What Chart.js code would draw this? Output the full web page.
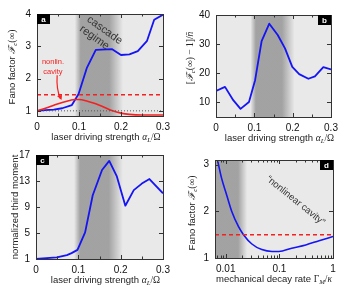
<!DOCTYPE html>
<html>
<head>
<meta charset="utf-8">
<script src="https://cdn.jsdelivr.net/npm/chart.js@4.4.1/dist/chart.umd.min.js"></script>
<style>
  html, body { margin: 0; padding: 0; background: #fff; }
  #wrap { position: relative; width: 347px; height: 295px; }
  #wrap canvas { position: absolute; left: 0; top: 0; }
</style>
</head>
<body>
<div id="wrap">
  <canvas id="chartA" width="347" height="295"></canvas>
  <canvas id="chartB" width="347" height="295"></canvas>
  <canvas id="chartC" width="347" height="295"></canvas>
  <canvas id="chartD" width="347" height="295"></canvas>
</div>
<script>
// panel a: Fano factor vs driving strength
const fanoX = [0, 0.02, 0.04, 0.06, 0.083, 0.099, 0.119, 0.14, 0.179, 0.2, 0.22, 0.24, 0.262, 0.279, 0.3];
const fanoY = [1.0, 1.02, 1.04, 1.08, 1.18, 1.52, 2.34, 2.89, 2.91, 2.73, 2.75, 2.85, 3.17, 3.82, 3.98];
const cavityX = [0, 0.02, 0.04, 0.06, 0.08, 0.09, 0.1, 0.12, 0.14, 0.16, 0.18, 0.2, 0.22, 0.25, 0.3];
const cavityY = [1.0, 1.08, 1.17, 1.26, 1.33, 1.35, 1.35, 1.3, 1.22, 1.11, 1.0, 0.93, 0.89, 0.87, 0.87];
const cavityLimit = 1.5;
const poissonLevel = 1;

// panel b: [F(inf) - 1] / n
const excessX = [0, 0.0235, 0.045, 0.064, 0.086, 0.102, 0.119, 0.139, 0.161, 0.18, 0.199, 0.217, 0.241, 0.258, 0.28, 0.3];
const excessY = [13.8, 15.2, 10.6, 7.6, 10.0, 17.5, 31.0, 37.0, 33.1, 28.5, 22.1, 19.6, 18.0, 18.8, 22.0, 21.2];

// panel c: normalized third moment
const thirdX = [0, 0.049, 0.073, 0.084, 0.098, 0.116, 0.134, 0.156, 0.173, 0.191, 0.211, 0.231, 0.25, 0.268, 0.3];
const thirdY = [1.0, 1.26, 1.6, 1.9, 2.4, 5.1, 10.8, 14.7, 16.1, 13.7, 9.2, 11.6, 12.6, 13.3, 11.1];

// panel d: Fano factor vs mechanical decay rate
const decayX = [0.0071, 0.0084, 0.0104, 0.013, 0.0173, 0.0214, 0.0307, 0.047, 0.073, 0.098, 0.17, 0.31, 0.55, 1.0];
const decayY = [3.07, 2.70, 2.35, 1.99, 1.67, 1.50, 1.30, 1.18, 1.14, 1.14, 1.21, 1.28, 1.37, 1.46];

// tick labels
const xTicks = [0, 0.1, 0.2, 0.3];
const xMinor = [0.05, 0.15, 0.25];
const yTicksA = [1, 2, 3, 4];
const yTicksB = [10, 20, 30, 40];
const yTicksC = [1, 5, 9, 13, 17];
const yTicksD = [1, 2, 3];
const xTicksD = [0.01, 0.1, 1];

// shaded "cascade" band edges: fade-in start, full, full end, fade-out end
const bandLin = [0.09, 0.104, 0.172, 0.205];
const bandLog = [0, 0, 0.017, 0.025];

const SANS = '"Liberation Sans", Arial, sans-serif';
const SERIF = '"Liberation Serif", "DejaVu Serif", serif';
const BLUE = '#1414f5';
const RED = '#f52020';

function pts(xs, ys) {
  return xs.map((x, i) => ({ x: x, y: ys[i] }));
}
function level(xs, y) {
  return [{ x: xs[0], y: y }, { x: xs[xs.length - 1], y: y }];
}

function richText(ctx, parts, x, y, size, angle) {
  ctx.save();
  ctx.translate(x, y);
  ctx.rotate(angle || 0);
  const fontOf = p => (p.it ? 'italic ' : '') + (p.sub ? size * 0.72 : size) + 'px ' + (p.math ? SERIF : SANS);
  let w = 0;
  parts.forEach(p => { ctx.font = fontOf(p); w += ctx.measureText(p.t).width; });
  let cx = -w / 2;
  ctx.textAlign = 'left';
  ctx.textBaseline = 'middle';
  ctx.fillStyle = '#222';
  parts.forEach(p => {
    ctx.font = fontOf(p);
    ctx.fillText(p.t, cx, p.sub ? size * 0.3 : 0);
    cx += ctx.measureText(p.t).width;
  });
  ctx.restore();
}

const xTitleLaser = [{ t: 'laser driving strength ' }, { t: 'α', it: 1, math: 1 }, { t: 'L', it: 1, sub: 1, math: 1 }, { t: '/Ω', math: 1 }];
const xTitleDecay = [{ t: 'mechanical decay rate ' }, { t: 'Γ', math: 1 }, { t: 'M', it: 1, sub: 1, math: 1 }, { t: '/', math: 1 }, { t: 'κ', it: 1, math: 1 }];
const yTitleFano = [{ t: 'Fano factor ' }, { t: 'ℱ', it: 1, math: 1 }, { t: 'c', it: 1, sub: 1, math: 1 }, { t: '(∞)', math: 1 }];
const yTitleExcess = [{ t: '[', math: 1 }, { t: 'ℱ', it: 1, math: 1 }, { t: 'c', it: 1, sub: 1, math: 1 }, { t: '(∞) − 1]/', math: 1 }, { t: 'n̄', it: 1, math: 1 }];
const yTitleThird = [{ t: 'normalized third moment' }];

function panelPlugin(p) {
  return {
    id: 'panel' + p.letter,
    beforeDraw(chart) {
      const { ctx, chartArea: a, scales } = chart;
      ctx.save();
      ctx.fillStyle = '#e9e9e9';
      ctx.fillRect(a.left, a.top, a.width, a.height);
      const g = ctx.createLinearGradient(a.left, 0, a.right, 0);
      const pos = p.band.map(v => {
        const px = v <= 0 ? a.left : scales.x.getPixelForValue(v);
        return Math.min(1, Math.max(0, (px - a.left) / a.width));
      });
      g.addColorStop(pos[0], 'rgba(150,150,150,0)');
      g.addColorStop(pos[1], 'rgba(150,150,150,0.85)');
      g.addColorStop(pos[2], 'rgba(150,150,150,0.85)');
      g.addColorStop(pos[3], 'rgba(150,150,150,0)');
      ctx.fillStyle = g;
      ctx.fillRect(a.left, a.top, a.width, a.height);
      ctx.restore();
    },
    afterDatasetsDraw(chart) {
      const { ctx, chartArea: a, scales } = chart;
      ctx.save();
      ctx.strokeStyle = '#333';
      ctx.lineWidth = 1;
      ctx.beginPath();
      scales.x.ticks.forEach(t => {
        const px = Math.round(scales.x.getPixelForValue(t.value)) + 0.5;
        if (px <= a.left + 1 || px >= a.right - 1) return;
        const len = t.label ? 4 : 2.5;
        ctx.moveTo(px, a.bottom); ctx.lineTo(px, a.bottom - len);
        ctx.moveTo(px, a.top); ctx.lineTo(px, a.top + len);
      });
      scales.y.ticks.forEach(t => {
        const py = Math.round(scales.y.getPixelForValue(t.value)) + 0.5;
        if (py <= a.top + 1 || py >= a.bottom - 1) return;
        ctx.moveTo(a.left, py); ctx.lineTo(a.left + 4, py);
        ctx.moveTo(a.right, py); ctx.lineTo(a.right - 4, py);
      });
      ctx.stroke();
      ctx.strokeRect(Math.round(a.left) + 0.5, Math.round(a.top) + 0.5, Math.round(a.width), Math.round(a.height));

      // panel letter
      const bw = 13, bh = 10;
      const bx = p.letterRight ? a.right - bw : a.left;
      ctx.fillStyle = '#000';
      ctx.fillRect(bx, a.top, bw, bh);
      ctx.fillStyle = '#fff';
      ctx.font = 'bold 8px ' + SANS;
      ctx.textAlign = 'center';
      ctx.textBaseline = 'middle';
      ctx.fillText(p.letter, bx + bw / 2, a.top + bh / 2 + 0.5);

      // axis titles
      richText(ctx, p.xTitle, (a.left + a.right) / 2 + p.xTitleShift, a.bottom + 21, 9.5, 0);
      richText(ctx, p.yTitle, a.left + p.yTitleOffset, (a.top + a.bottom) / 2 + p.yTitleShift, 9.5, -Math.PI / 2);

      if (p.extra) p.extra(ctx, scales);
      ctx.restore();
    }
  };
}

function makePanel(p) {
  new Chart(document.getElementById(p.id), {
    type: 'line',
    data: { datasets: p.datasets },
    options: {
      responsive: false,
      animation: false,
      devicePixelRatio: 1,
      layout: { padding: { left: 0, top: p.area.t, right: 347 - p.area.r, bottom: 0 } },
      plugins: { legend: { display: false }, tooltip: { enabled: false } },
      elements: { point: { radius: 0 }, line: { borderJoinStyle: 'round' } },
      scales: {
        x: {
          type: p.xType,
          min: p.xMin,
          max: p.xMax,
          grid: { display: false, drawTicks: false },
          border: { display: false },
          afterFit(scale) { scale.height = 295 - p.area.b; },
          afterBuildTicks(scale) { scale.ticks = p.xAll.map(v => ({ value: v })); },
          ticks: {
            autoSkip: false,
            maxRotation: 0,
            padding: 5,
            color: '#111',
            font: { family: SANS, size: 10 },
            callback: v => (p.xMajor.some(m => Math.abs(m - v) < 1e-9) ? String(v) : '')
          }
        },
        y: {
          type: 'linear',
          min: p.yMin,
          max: p.yMax,
          grid: { display: false, drawTicks: false },
          border: { display: false },
          afterFit(scale) { scale.width = p.area.l; },
          afterBuildTicks(scale) { scale.ticks = p.yMajor.map(v => ({ value: v })); },
          ticks: {
            padding: 6,
            color: '#111',
            font: { family: SANS, size: 10 },
            callback: v => String(v)
          }
        }
      }
    },
    plugins: [panelPlugin(p)]
  });
}

const xAllLin = xTicks.concat(xMinor).sort((a, b) => a - b);
const xAllLog = [];
[0.001, 0.01, 0.1].forEach(d => { for (let k = 1; k <= 9; k++) xAllLog.push(+(k * d).toPrecision(3)); });
xAllLog.push(1);

// a
makePanel({
  id: 'chartA', letter: 'a', area: { l: 37, t: 14, r: 163, b: 116 },
  xType: 'linear', xMin: 0, xMax: 0.3, xAll: xAllLin, xMajor: xTicks,
  yMin: 0.84, yMax: 4, yMajor: yTicksA, band: bandLin,
  xTitle: xTitleLaser, xTitleShift: 6, yTitle: yTitleFano, yTitleOffset: -25, yTitleShift: 2,
  datasets: [
    { data: level(xTicks, poissonLevel), borderColor: '#555', borderWidth: 1, borderDash: [1, 2] },
    { data: level(xTicks, cavityLimit), borderColor: RED, borderWidth: 1.5, borderDash: [4, 3] },
    { data: pts(cavityX, cavityY), borderColor: RED, borderWidth: 1.6, cubicInterpolationMode: 'monotone' },
    { data: pts(fanoX, fanoY), borderColor: BLUE, borderWidth: 1.8 }
  ],
  extra(ctx, s) {
    ctx.fillStyle = '#333';
    ctx.font = '11px ' + SANS;
    ctx.textAlign = 'center';
    ctx.textBaseline = 'middle';
    ctx.save();
    ctx.translate(s.x.getPixelForValue(0.145), s.y.getPixelForValue(3.42));
    ctx.rotate(0.62);
    ctx.fillText('cascade', 4, -6);
    ctx.fillText('regime', 0, 6);
    ctx.restore();

    ctx.fillStyle = RED;
    ctx.font = '7.5px ' + SANS;
    const tx = s.x.getPixelForValue(0.038);
    ctx.fillText('nonlin.', tx, s.y.getPixelForValue(2.5));
    ctx.fillText('cavity', tx, s.y.getPixelForValue(2.22));
    const x0 = s.x.getPixelForValue(0.048), y0 = s.y.getPixelForValue(2.1);
    const x1 = s.x.getPixelForValue(0.056), y1 = s.y.getPixelForValue(1.37);
    ctx.strokeStyle = RED;
    ctx.lineWidth = 1.2;
    ctx.beginPath();
    ctx.moveTo(x0, y0);
    ctx.quadraticCurveTo(x0 - 1, y0 + 14, x1, y1);
    ctx.stroke();
    ctx.beginPath();
    ctx.moveTo(x1 + 1, y1 + 1);
    ctx.lineTo(x1 - 3.5, y1 - 3);
    ctx.lineTo(x1 + 1.5, y1 - 4);
    ctx.closePath();
    ctx.fillStyle = RED;
    ctx.fill();
  }
});

// b
makePanel({
  id: 'chartB', letter: 'b', letterRight: true, area: { l: 216, t: 15, r: 331, b: 117 },
  xType: 'linear', xMin: 0, xMax: 0.3, xAll: xAllLin, xMajor: xTicks,
  yMin: 4.8, yMax: 40, yMajor: yTicksB, band: bandLin,
  xTitle: xTitleLaser, xTitleShift: 6, yTitle: yTitleExcess, yTitleOffset: -26, yTitleShift: -8,
  datasets: [
    { data: pts(excessX, excessY), borderColor: BLUE, borderWidth: 1.8 }
  ]
});

// c
makePanel({
  id: 'chartC', letter: 'c', area: { l: 36, t: 155, r: 163, b: 259 },
  xType: 'linear', xMin: 0, xMax: 0.3, xAll: xAllLin, xMajor: xTicks,
  yMin: 1, yMax: 17, yMajor: yTicksC, band: bandLin,
  xTitle: xTitleLaser, xTitleShift: 6, yTitle: yTitleThird, yTitleOffset: -21, yTitleShift: 0,
  datasets: [
    { data: pts(thirdX, thirdY), borderColor: BLUE, borderWidth: 1.8 }
  ]
});

// d
makePanel({
  id: 'chartD', letter: 'd', letterRight: true, area: { l: 215, t: 160, r: 333, b: 258 },
  xType: 'logarithmic', xMin: 0.0063, xMax: 1, xAll: xAllLog.filter(v => v >= 0.0063), xMajor: xTicksD,
  yMin: 1, yMax: 3.1, yMajor: yTicksD, band: bandLog,
  xTitle: xTitleDecay, xTitleShift: 0, yTitle: yTitleFano, yTitleOffset: -23, yTitleShift: 4,
  datasets: [
    { data: level([0.0063, 1], cavityLimit), borderColor: RED, borderWidth: 1.5, borderDash: [4, 3] },
    { data: pts(decayX, decayY), borderColor: BLUE, borderWidth: 1.6, cubicInterpolationMode: 'monotone' }
  ],
  extra(ctx, s) {
    ctx.fillStyle = '#333';
    ctx.font = '9.5px ' + SANS;
    ctx.textAlign = 'center';
    ctx.textBaseline = 'middle';
    ctx.translate(s.x.getPixelForValue(0.2), s.y.getPixelForValue(2.23));
    ctx.rotate(0.68);
    ctx.fillText('\u201cnonlinear cavity\u201d', 0, 0);
  }
});
</script>
</body>
</html>
